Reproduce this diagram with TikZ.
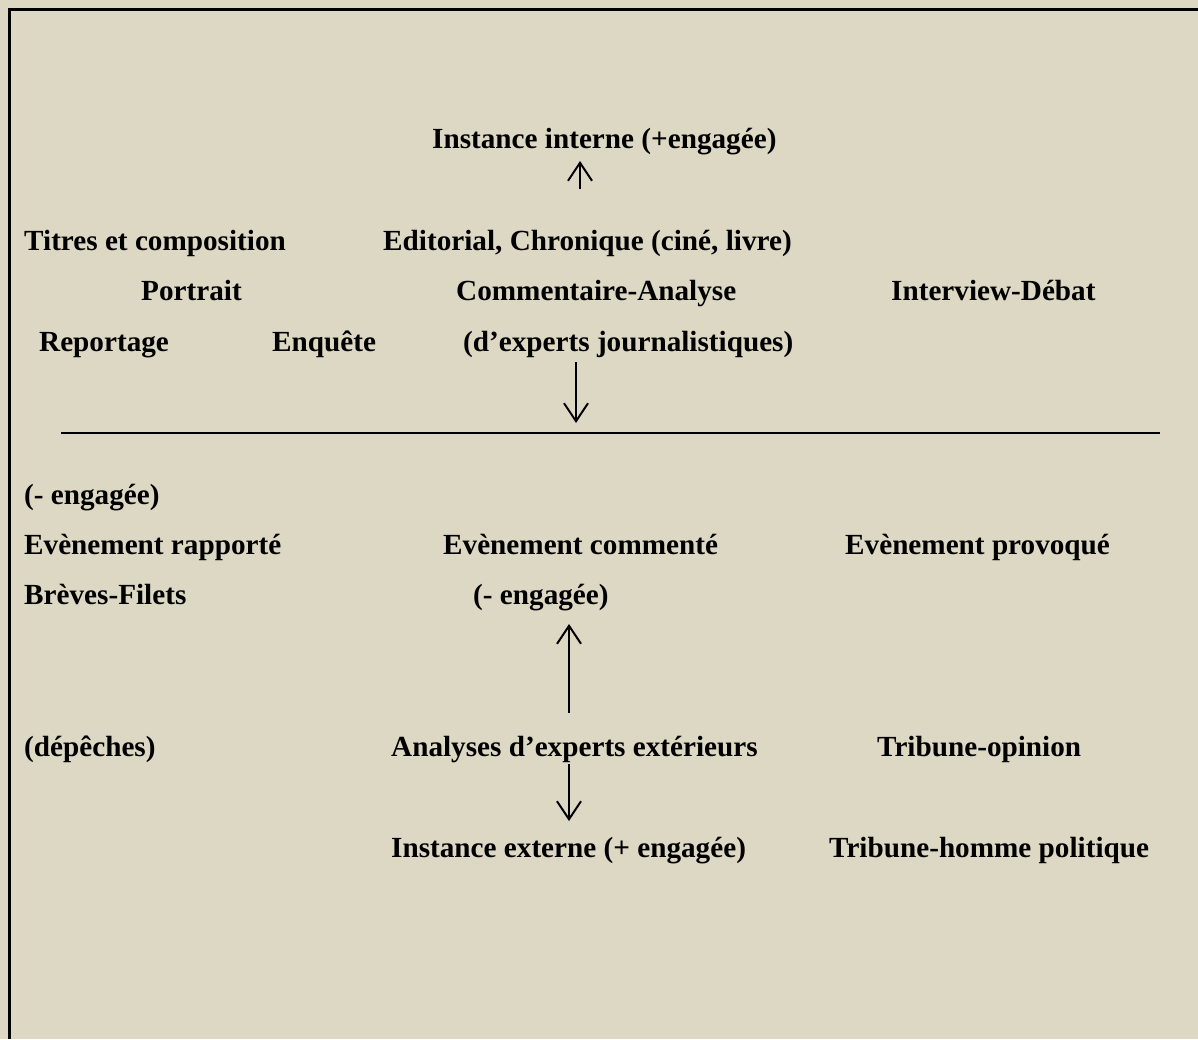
\documentclass[tikz,border=0pt]{standalone}
\usepackage{fontspec}
\setmainfont{Liberation Serif}
\usetikzlibrary{arrows.meta}
\definecolor{paper}{RGB}{221,216,195}
\begin{document}
\begin{tikzpicture}[x=1pt,y=-1pt,
  lbl/.style={anchor=base west,inner sep=0pt,font=\fontsize{29.2}{33}\selectfont\bfseries},
  rule/.style={line width=2pt},
  vec/.style={line width=2pt,-{Straight Barb[length=18pt,width=24pt,line width=2pt]}}]
  % page and frame
  \fill[paper] (0,0) rectangle (1198,1039);
  \useasboundingbox (0,0) rectangle (1198,1039);
  \draw[line width=3pt] (9,1039) -- (9,9) -- (1198,9);

  % upper half: internal instance
  \node[lbl] (ii)  at (432,148) {Instance interne (+engagée)};
  \node[lbl] (tc)  at (24,250)  {Titres et composition};
  \node[lbl] (ed)  at (383,250) {Editorial, Chronique (ciné, livre)};
  \node[lbl] (po)  at (141,300) {Portrait};
  \node[lbl] (ca)  at (456,300) {Commentaire-Analyse};
  \node[lbl] (id)  at (891,300) {Interview-Débat};
  \node[lbl] (re)  at (39,351)  {Reportage};
  \node[lbl] (en)  at (272,351) {Enquête};
  \node[lbl] (dj)  at (463,351) {(d’experts journalistiques)};

  % dividing rule
  \coordinate (ruleL) at (61,433);
  \coordinate (ruleR) at (1160,433);
  \draw[rule] (ruleL) -- (ruleR);

  % lower half
  \node[lbl] (me1) at (24,504)  {(- engagée)};
  \node[lbl] (er)  at (24,554)  {Evènement rapporté};
  \node[lbl] (ec)  at (443,554) {Evènement commenté};
  \node[lbl] (ep)  at (845,554) {Evènement provoqué};
  \node[lbl] (bf)  at (24,604)  {Brèves-Filets};
  \node[lbl] (me2) at (473,604) {(- engagée)};
  \node[lbl] (dp)  at (24,756)  {(dépêches)};
  \node[lbl] (ae)  at (391,756) {Analyses d’experts extérieurs};
  \node[lbl] (to)  at (877,756) {Tribune-opinion};
  \node[lbl] (ie)  at (391,857) {Instance externe (+ engagée)};
  \node[lbl] (th)  at (829,857) {Tribune-homme politique};

  % arrows
  \coordinate (a1s) at (580,189);
  \coordinate (a1e) at (580,161);
  \draw[vec] (a1s) -- (a1e);
  \coordinate (a2s) at (576,362);
  \coordinate (a2e) at (576,423);
  \draw[vec] (a2s) -- (a2e);
  \coordinate (a3s) at (569,713);
  \coordinate (a3e) at (569,624);
  \draw[vec] (a3s) -- (a3e);
  \coordinate (a4s) at (569,764);
  \coordinate (a4e) at (569,821);
  \draw[vec] (a4s) -- (a4e);
\end{tikzpicture}
\end{document}
